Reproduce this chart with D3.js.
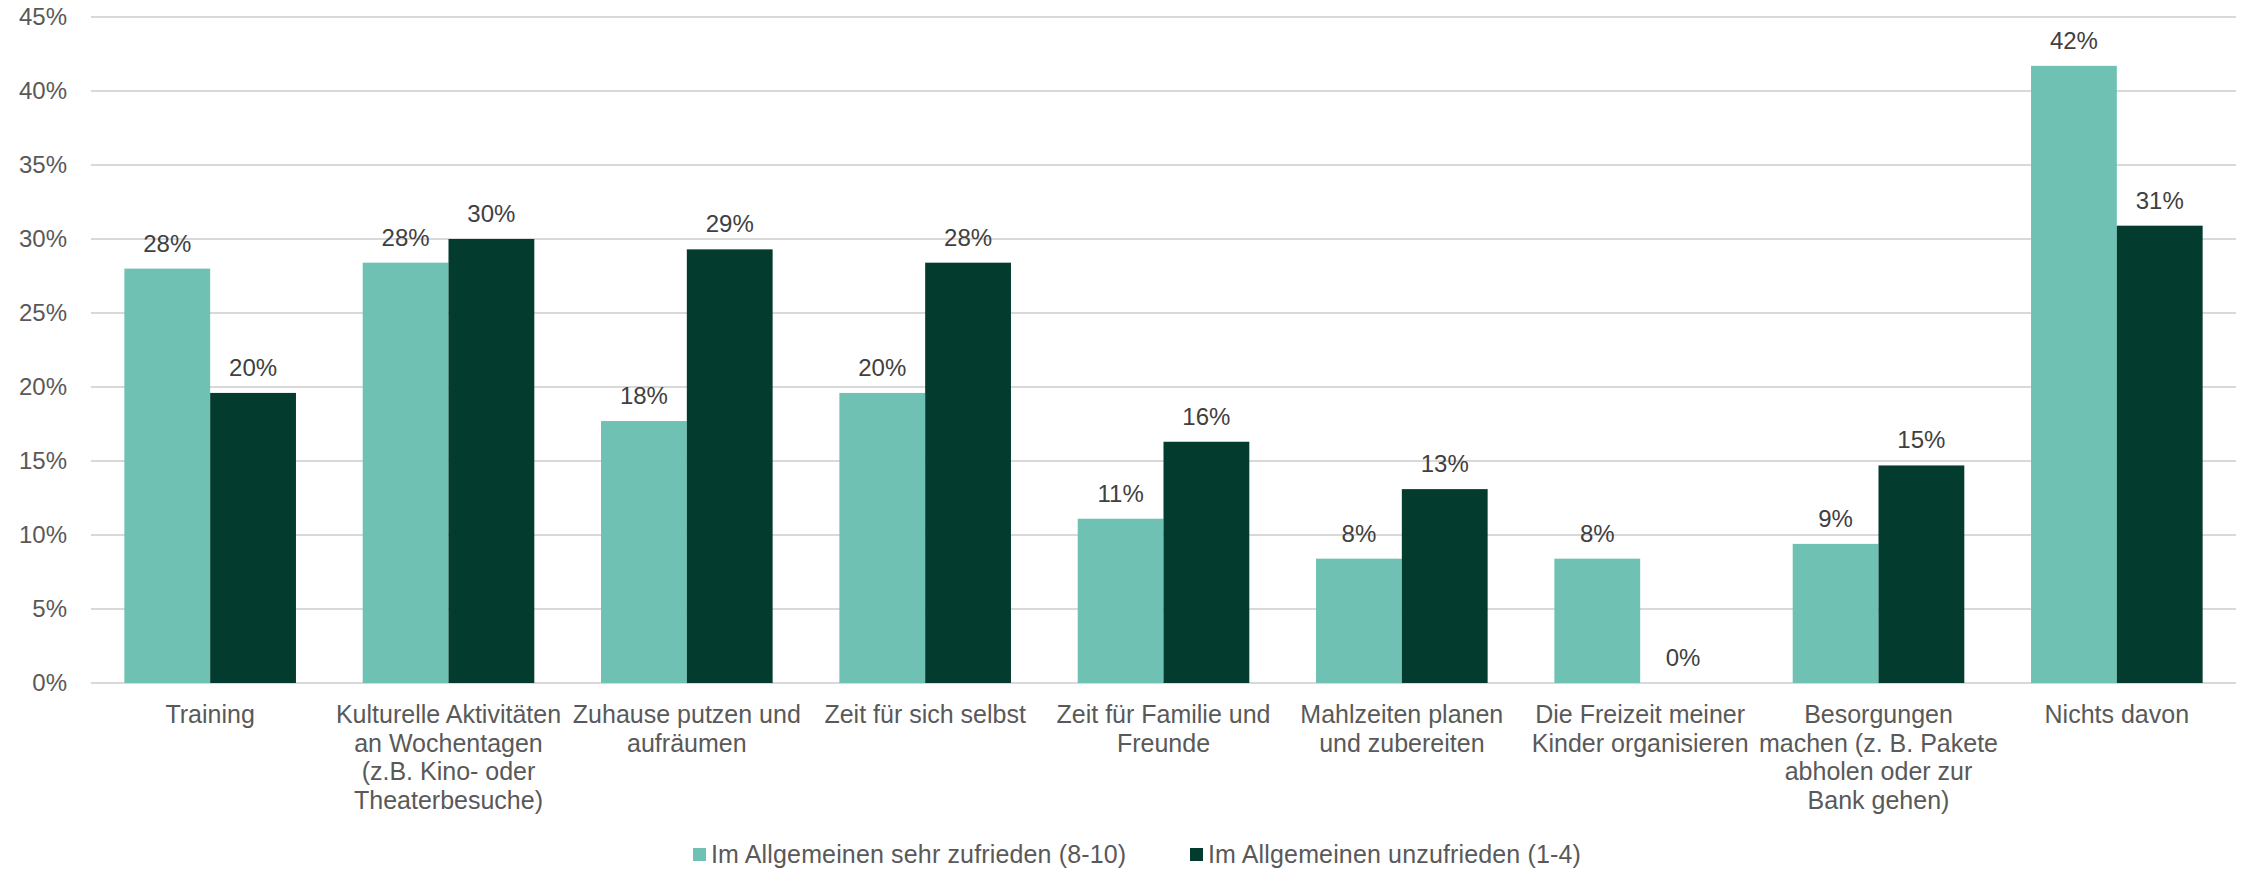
<!DOCTYPE html>
<html>
<head>
<meta charset="utf-8">
<script src="https://cdn.jsdelivr.net/npm/d3@7"></script>
<style>
  html, body { margin: 0; padding: 0; background: #ffffff; }
  svg { display: block; font-family: "Liberation Sans", Arial, sans-serif; }
</style>
</head>
<body>
<svg id="chart" width="2247" height="872"></svg>
<script>
// Activity categories (line breaks mark the label wrapping)
const categories = [
  "Training",
  "Kulturelle Aktivitäten\nan Wochentagen\n(z.B. Kino- oder\nTheaterbesuche)",
  "Zuhause putzen und\naufräumen",
  "Zeit für sich selbst",
  "Zeit für Familie und\nFreunde",
  "Mahlzeiten planen\nund zubereiten",
  "Die Freizeit meiner\nKinder organisieren",
  "Besorgungen\nmachen (z. B. Pakete\nabholen oder zur\nBank gehen)",
  "Nichts davon"
];

// Share of respondents in percent
const satisfied   = [28.0, 28.4, 17.7, 19.6, 11.1, 8.4, 8.4, 9.4, 41.7];
const unsatisfied = [19.6, 30.0, 29.3, 28.4, 16.3, 13.1, 0.0, 14.7, 30.9];

const seriesNames = [
  "Im Allgemeinen sehr zufrieden (8-10)",
  "Im Allgemeinen unzufrieden (1-4)"
];
const seriesColors = ["#6fc2b3", "#033b2e"];

const yTicks = [0, 5, 10, 15, 20, 25, 30, 35, 40, 45];

const svg = d3.select("#chart");
const plotLeft = 91, plotRight = 2236, plotTop = 17, plotBottom = 683;

const x0 = d3.scaleBand()
  .domain(categories)
  .range([plotLeft, plotRight])
  .paddingInner(0.28)
  .paddingOuter(0.14);

const x1 = d3.scaleBand()
  .domain([0, 1])
  .range([0, x0.bandwidth()])
  .padding(0);

const y = d3.scaleLinear().domain([0, 45]).range([plotBottom, plotTop]);

// Horizontal gridlines
svg.append("g")
  .selectAll("line")
  .data(yTicks)
  .join("line")
  .attr("x1", plotLeft)
  .attr("x2", plotRight)
  .attr("y1", d => y(d))
  .attr("y2", d => y(d))
  .attr("stroke", "#d9d9d9")
  .attr("stroke-width", 2);

// Y axis labels
const yAxis = d3.axisLeft(y)
  .tickValues(yTicks)
  .tickFormat(d => d + "%")
  .tickSize(0)
  .tickPadding(24);

const yg = svg.append("g")
  .attr("transform", `translate(${plotLeft},0)`)
  .call(yAxis);
yg.select(".domain").remove();
yg.selectAll("text")
  .attr("fill", "#595959")
  .attr("font-size", 24)
  .attr("font-family", "\"Liberation Sans\", Arial, sans-serif");

// Bars
const rows = categories.map((c, i) => ({ cat: c, vals: [satisfied[i], unsatisfied[i]] }));

const groups = svg.append("g")
  .selectAll("g")
  .data(rows)
  .join("g")
  .attr("transform", d => `translate(${x0(d.cat)},0)`);

groups.selectAll("rect")
  .data(d => d.vals.map((v, k) => ({ v, k })))
  .join("rect")
  .attr("x", d => x1(d.k))
  .attr("width", x1.bandwidth())
  .attr("y", d => y(d.v))
  .attr("height", d => y(0) - y(d.v))
  .attr("fill", d => seriesColors[d.k]);

// Value labels
groups.selectAll("text.val")
  .data(d => d.vals.map((v, k) => ({ v, k })))
  .join("text")
  .attr("class", "val")
  .attr("x", d => x1(d.k) + x1.bandwidth() / 2)
  .attr("y", d => y(d.v) - 17)
  .attr("text-anchor", "middle")
  .attr("font-size", 24)
  .attr("fill", "#404040")
  .text(d => Math.round(d.v) + "%");

// Category labels
const catLabels = svg.append("g")
  .selectAll("text")
  .data(categories)
  .join("text")
  .attr("x", d => x0(d) + x0.bandwidth() / 2)
  .attr("y", 723)
  .attr("text-anchor", "middle")
  .attr("font-size", 25)
  .attr("fill", "#595959");

catLabels.selectAll("tspan")
  .data(d => d.split("\n"))
  .join("tspan")
  .attr("x", function () { return d3.select(this.parentNode).attr("x"); })
  .attr("dy", (d, i) => i === 0 ? 0 : 28.6)
  .text(d => d);

// Legend
const legendX = [693, 1190];
const legend = svg.append("g")
  .selectAll("g")
  .data(seriesNames)
  .join("g")
  .attr("transform", (d, i) => `translate(${legendX[i]},848)`);

legend.append("rect")
  .attr("width", 13)
  .attr("height", 13)
  .attr("fill", (d, i) => seriesColors[i]);

legend.append("text")
  .attr("x", 18)
  .attr("y", 15)
  .attr("font-size", 25)
  .attr("letter-spacing", 0.15)
  .attr("fill", "#595959")
  .text(d => d);
</script>
</body>
</html>
